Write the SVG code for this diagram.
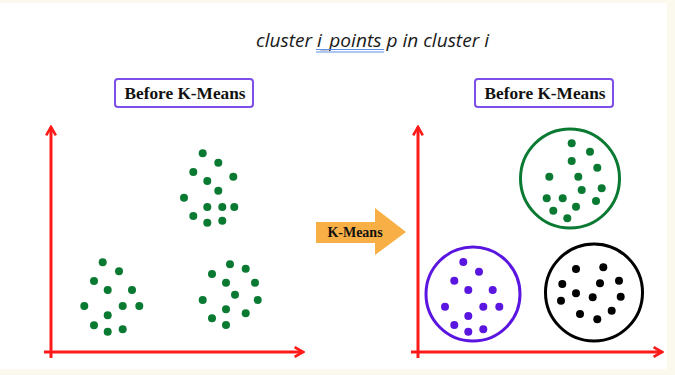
<svg xmlns="http://www.w3.org/2000/svg" width="675" height="375" viewBox="0 0 675 375">
  <style>
    .axis { stroke: #ff1a1a; stroke-width: 3; fill: none; }
    .lbl { fill: #ffffff; stroke: #7b4fe8; stroke-width: 2; }
    .lbltxt { font-family: "Liberation Serif", serif; font-weight: bold; font-size: 17px; fill: #111; text-anchor: middle; }
    .g { fill: #0a7a32; }
    .p { fill: #5a16e0; }
    .k { fill: #000000; }
  </style>
  <defs>
    <marker id="ah" viewBox="0 0 10 10" refX="8" refY="5" markerWidth="4" markerHeight="4" orient="auto" markerUnits="strokeWidth">
      <path d="M1,1 L8,5 L1,9" fill="none" stroke="#ff1a1a" stroke-width="2.2"/>
    </marker>
  </defs>

  <rect width="675" height="375" fill="#fbf8ee"/>
  <rect x="0" y="3" width="667" height="366" fill="#ffffff"/>

  <!-- heading -->
  <g id="heading">
    <text x="256" y="47" font-family="Open Sans, 'Liberation Sans', sans-serif" font-style="italic" font-size="19px" fill="#1a1a1a" textLength="233" lengthAdjust="spacingAndGlyphs">cluster i_points p in cluster i</text>
    <line x1="316" y1="49.5" x2="384" y2="49.5" stroke="#5b8fe6" stroke-width="1"/>
    <line x1="316" y1="52" x2="384" y2="52" stroke="#5b8fe6" stroke-width="1"/>
  </g>

  <!-- labels -->
  <g id="label-left">
    <rect class="lbl" x="115" y="79" width="138" height="28" rx="3"/>
    <text class="lbltxt" x="185" y="99" textLength="121" lengthAdjust="spacingAndGlyphs">Before K-Means</text>
  </g>
  <g id="label-right">
    <rect class="lbl" x="475" y="79" width="138" height="28" rx="3"/>
    <text class="lbltxt" x="545" y="99" textLength="121" lengthAdjust="spacingAndGlyphs">Before K-Means</text>
  </g>

  <!-- axes -->
  <g id="connectors">
    <line class="axis" x1="51" y1="358" x2="51" y2="127" marker-end="url(#ah)"/>
    <line class="axis" x1="44" y1="352" x2="303" y2="352" marker-end="url(#ah)"/>
    <line class="axis" x1="418" y1="358" x2="418" y2="127" marker-end="url(#ah)"/>
    <line class="axis" x1="411" y1="352" x2="662" y2="352" marker-end="url(#ah)"/>
  </g>

  <!-- K-Means arrow -->
  <g id="kmeans-arrow">
    <path d="M316,222 L375,222 L375,208 L406,232 L375,255 L375,243 L316,243 Z" fill="#f8b046"/>
    <text x="355" y="237" font-family="'Liberation Serif', serif" font-weight="bold" font-size="14px" fill="#111" text-anchor="middle">K-Means</text>
  </g>

  <!-- unclustered points -->
  <g id="points-top" class="g">
    <circle cx="202.7" cy="153.3" r="4"/><circle cx="218.3" cy="162.7" r="4"/>
    <circle cx="193.3" cy="172" r="4"/><circle cx="207.3" cy="181" r="4"/>
    <circle cx="233.3" cy="176.7" r="4"/><circle cx="218.3" cy="190.7" r="4"/>
    <circle cx="184" cy="197.7" r="4"/><circle cx="207.3" cy="207" r="4"/>
    <circle cx="222.3" cy="207" r="4"/><circle cx="234.3" cy="207" r="4"/>
    <circle cx="193.3" cy="216" r="4"/><circle cx="207.3" cy="222.7" r="4"/>
    <circle cx="222.3" cy="220.7" r="4"/>
  </g>
  <g id="points-lower-left" class="g">
    <circle cx="102.7" cy="262.3" r="4"/><circle cx="119" cy="271.3" r="4"/>
    <circle cx="94" cy="281" r="4"/><circle cx="107.7" cy="290" r="4"/>
    <circle cx="132" cy="290" r="4"/><circle cx="84.3" cy="306" r="4"/>
    <circle cx="122.7" cy="306" r="4"/><circle cx="139.3" cy="306" r="4"/>
    <circle cx="107.7" cy="315.3" r="4"/><circle cx="94" cy="325.3" r="4"/>
    <circle cx="107.7" cy="331.7" r="4"/><circle cx="122.7" cy="329.3" r="4"/>
  </g>
  <g id="points-lower-right" class="g">
    <circle cx="230" cy="264.3" r="4"/><circle cx="245.7" cy="268.7" r="4"/>
    <circle cx="212" cy="274" r="4"/><circle cx="226" cy="282.7" r="4"/>
    <circle cx="255" cy="282.7" r="4"/><circle cx="235" cy="294.7" r="4"/>
    <circle cx="202.7" cy="300" r="4"/><circle cx="257.7" cy="300" r="4"/>
    <circle cx="226" cy="309.3" r="4"/><circle cx="245.7" cy="313.3" r="4"/>
    <circle cx="212" cy="318.3" r="4"/><circle cx="226" cy="325" r="4"/>
  </g>

  <!-- clustered points -->
  <g id="cluster-green">
    <circle cx="570" cy="178.5" r="49.5" fill="none" stroke="#0a7a32" stroke-width="3"/>
    <g class="g">
      <circle cx="571.7" cy="143.3" r="4"/><circle cx="590" cy="151.7" r="4"/>
      <circle cx="571.7" cy="161" r="4"/><circle cx="597.3" cy="167.7" r="4"/>
      <circle cx="549.3" cy="176.7" r="4"/><circle cx="578.3" cy="176.7" r="4"/>
      <circle cx="581.7" cy="190" r="4"/><circle cx="601.7" cy="188.3" r="4"/>
      <circle cx="546.7" cy="198.3" r="4"/><circle cx="562.7" cy="198.3" r="4"/>
      <circle cx="596" cy="201" r="4"/><circle cx="576" cy="206.7" r="4"/>
      <circle cx="553.3" cy="210.7" r="4"/><circle cx="567.3" cy="218.3" r="4"/>
    </g>
  </g>
  <g id="cluster-purple">
    <circle cx="473" cy="294" r="47" fill="none" stroke="#5a16e0" stroke-width="3"/>
    <g class="p">
      <circle cx="463.3" cy="262" r="4"/><circle cx="479" cy="271.7" r="4"/>
      <circle cx="454.3" cy="280.7" r="4"/><circle cx="468.3" cy="290" r="4"/>
      <circle cx="492.7" cy="290" r="4"/><circle cx="445" cy="306.7" r="4"/>
      <circle cx="483.3" cy="306.7" r="4"/><circle cx="499.3" cy="306.7" r="4"/>
      <circle cx="468.3" cy="316" r="4"/><circle cx="454.3" cy="325" r="4"/>
      <circle cx="468.3" cy="331.7" r="4"/><circle cx="483.3" cy="329.3" r="4"/>
    </g>
  </g>
  <g id="cluster-black">
    <circle cx="594" cy="292.5" r="48.5" fill="none" stroke="#000000" stroke-width="3"/>
    <g class="k">
      <circle cx="576" cy="269" r="4"/><circle cx="603.3" cy="267.3" r="4"/>
      <circle cx="562.3" cy="284" r="4"/><circle cx="600" cy="283.3" r="4"/>
      <circle cx="619" cy="280.7" r="4"/><circle cx="576" cy="293.3" r="4"/>
      <circle cx="592.7" cy="297.3" r="4"/><circle cx="620.7" cy="296.7" r="4"/>
      <circle cx="561" cy="300.7" r="4"/><circle cx="611.7" cy="310.7" r="4"/>
      <circle cx="580" cy="314" r="4"/><circle cx="597.3" cy="319.3" r="4"/>
    </g>
  </g>
</svg>
